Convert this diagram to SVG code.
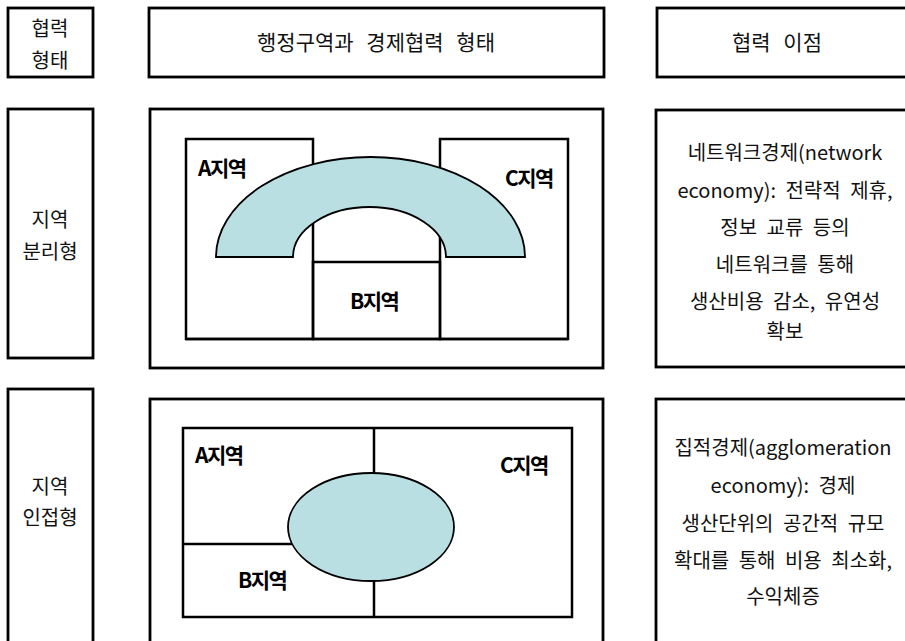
<svg xmlns="http://www.w3.org/2000/svg" width="905" height="641" viewBox="0 0 905 641">
<style>
.box{fill:#fff;stroke:#000;stroke-width:2.8}
.t{font-family:"Noto Sans CJK KR","Noto Sans",sans-serif;font-size:20px;fill:#111;text-anchor:middle}
.h{font-family:"Noto Sans CJK KR","Noto Sans",sans-serif;font-size:21px;fill:#111;text-anchor:middle;word-spacing:8px}
.r{font-family:"Noto Sans CJK KR","Noto Sans",sans-serif;font-size:20px;fill:#111;text-anchor:middle;word-spacing:5px}
.lab{font-family:"Noto Sans CJK KR","Noto Sans",sans-serif;font-size:21px;font-weight:bold;fill:#000;letter-spacing:-1.5px}
.ln{stroke:#000;stroke-width:2.5;fill:none}
.blue{fill:#B9DFE3;stroke:#000;stroke-width:1.8}
</style>
<rect width="905" height="641" fill="#fff"/>
<g id="hdr-type"><rect class="box" x="8" y="8" width="85" height="69"/><text class="t" x="50" y="36">협력</text><text class="t" x="50" y="68">형태</text></g>
<g id="hdr-form"><rect class="box" x="149" y="8" width="455" height="69"/><text class="h" x="376" y="50">행정구역과 경제협력 형태</text></g>
<g id="hdr-benefit"><rect class="box" x="657" y="8" width="260" height="69"/><text class="h" x="777" y="50">협력 이점</text></g>

<g id="type-separated"><rect class="box" x="8" y="109" width="85" height="249"/><text class="t" x="50" y="227">지역</text><text class="t" x="50" y="259">분리형</text></g>
<g id="form-separated">
<rect class="box" x="150" y="109" width="453" height="259"/>
<rect class="ln" x="186" y="139" width="127" height="200"/>
<rect class="ln" x="440" y="139" width="128" height="200"/>
<rect class="ln" x="313" y="262" width="127" height="77"/>
<line class="ln" x1="186" y1="339" x2="568" y2="339" stroke-width="3.5"/>
<path class="blue" d="M216,257 A154.5,100 0 0 1 525,257 L446,257 A76.5,50 0 0 0 293,257 Z"/>
<text class="lab" x="198" y="176">A지역</text>
<text class="lab" x="505" y="186">C지역</text>
<text class="lab" x="350" y="309">B지역</text>
</g>
<g id="benefit-separated"><rect class="box" x="656" y="110" width="260" height="257"/>
<text class="r" x="785" y="160">네트워크경제(network</text>
<text class="r" x="785" y="198">economy): 전략적 제휴,</text>
<text class="r" x="785" y="235">정보 교류 등의</text>
<text class="r" x="785" y="272">네트워크를 통해</text>
<text class="r" x="785" y="309">생산비용 감소, 유연성</text>
<text class="r" x="785" y="339">확보</text>
</g>

<g id="type-adjacent"><rect class="box" x="8" y="389" width="85" height="270"/><text class="t" x="50" y="494">지역</text><text class="t" x="50" y="525">인접형</text></g>
<g id="form-adjacent">
<rect class="box" x="150" y="399" width="453" height="260"/>
<rect class="ln" x="183" y="428" width="389" height="189" stroke-width="3.5"/>
<line class="ln" x1="374" y1="428" x2="374" y2="474"/>
<line class="ln" x1="374" y1="580" x2="374" y2="617"/>
<line class="ln" x1="183" y1="544" x2="292" y2="544" stroke-width="3.5"/>
<ellipse class="blue" cx="371" cy="527" rx="83" ry="54"/>
<text class="lab" x="195" y="463">A지역</text>
<text class="lab" x="500" y="473">C지역</text>
<text class="lab" x="238" y="588">B지역</text>
</g>
<g id="benefit-adjacent"><rect class="box" x="656" y="399" width="260" height="260"/>
<text class="r" x="783" y="455">집적경제(agglomeration</text>
<text class="r" x="783" y="493">economy): 경제</text>
<text class="r" x="783" y="531">생산단위의 공간적 규모</text>
<text class="r" x="783" y="568">확대를 통해 비용 최소화,</text>
<text class="r" x="783" y="604">수익체증</text>
</g>
<g id="connectors"/>
</svg>
